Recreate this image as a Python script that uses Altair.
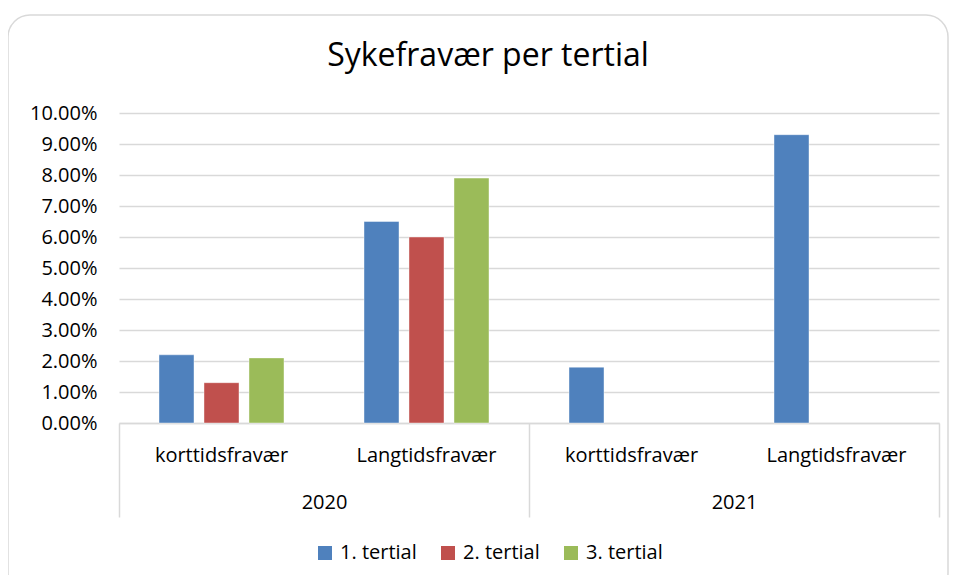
import altair as alt
import pandas as pd

years = ["2020", "2021"]
types = ["korttidsfravær", "Langtidsfravær"]
series = ["1. tertial", "2. tertial", "3. tertial"]
colors = ["#4F81BD", "#C0504D", "#9BBB59"]
# values in percent, ordered (2020 kort, 2020 lang, 2021 kort, 2021 lang)
tertial_1 = [2.2, 6.5, 1.8, 9.3]
tertial_2 = [1.3, 6.0, None, None]
tertial_3 = [2.1, 7.9, None, None]
y_ticks = [0, 0.01, 0.02, 0.03, 0.04, 0.05, 0.06, 0.07, 0.08, 0.09, 0.10]

keys = [f"{y}|{t}" for y in years for t in types]
rows = []
for s, vals in zip(series, [tertial_1, tertial_2, tertial_3]):
    for k, v in zip(keys, vals):
        if v is not None:
            rows.append({"key": k, "series": s, "value": v / 100})
df = pd.DataFrame(rows)
df_years = pd.DataFrame({"year": years})

FONT = "Open Sans"
TXT = "#000000"
GRID = "#D9D9D9"
FS = 20

W, H = 820, 310

border = alt.Chart(pd.DataFrame({"a": [0]})).mark_rect(
    filled=False, stroke=GRID, strokeWidth=1.5, cornerRadius=22
).encode(
    x=alt.value(-111), x2=alt.value(829), y=alt.value(-98), y2=alt.value(482)
)

bars = alt.Chart(df).mark_bar(stroke="white", strokeOpacity=0.6, strokeWidth=0.7).encode(
    x=alt.X("key:N", sort=keys,
            scale=alt.Scale(domain=keys, paddingInner=0, paddingOuter=0),
            axis=alt.Axis(title=None, orient="bottom",
                          labelExpr="split(datum.label, '|')[1]",
                          labelAngle=0, ticks=False, domainColor=GRID, domainWidth=1.5,
                          labelFont=FONT, labelFontSize=FS, labelColor=TXT,
                          labelPadding=32, labelBaseline="middle", offset=0)),
    xOffset=alt.XOffset("series:N",
                        scale=alt.Scale(domain=series, paddingInner=0.222, paddingOuter=0.889)),
    y=alt.Y("value:Q", scale=alt.Scale(domain=[0, 0.10], nice=False),
            axis=alt.Axis(title=None, values=y_ticks, format=".2%", grid=True,
                          gridColor=GRID, gridWidth=1.5, ticks=False, domain=False,
                          labelFont=FONT, labelFontSize=FS, labelColor=TXT,
                          labelPadding=22)),
    color=alt.Color("series:N", scale=alt.Scale(domain=series, range=colors),
                    legend=alt.Legend(title=None, orient="none", direction="horizontal",
                                      legendX=196, legendY=430,
                                      symbolType="square", symbolSize=196,
                                      symbolStrokeWidth=0, labelFont=FONT,
                                      labelFontSize=FS, labelColor=TXT,
                                      labelOffset=5, columnPadding=21)),
)

year_axis = alt.Chart(df_years).mark_point(opacity=0).encode(
    x=alt.X("year:N", scale=alt.Scale(domain=years, paddingInner=0, paddingOuter=0),
            axis=alt.Axis(title=None, orient="bottom", labelAngle=0, domain=False,
                          ticks=True, tickBand="extent", tickSize=94, tickColor=GRID,
                          tickWidth=1.5, labelFont=FONT, labelFontSize=FS,
                          labelColor=TXT, labelPadding=-15, labelBaseline="middle",
                          offset=0)),
)

chart = alt.layer(border, bars, year_axis).resolve_scale(x="independent").properties(
    width=W, height=H,
    autosize=alt.AutoSizeParams(type="none"),
    padding={"left": 111, "top": 105, "right": 11, "bottom": 152},
    title=alt.TitleParams("Sykefravær per tertial", font=FONT, fontSize=32,
                          fontWeight="normal", color=TXT, anchor="middle", dx=-41,
                          baseline="alphabetic", offset=-84),
).configure_view(stroke=None)

chart.save("out.html", embed_options={"renderer": "svg", "actions": False})
